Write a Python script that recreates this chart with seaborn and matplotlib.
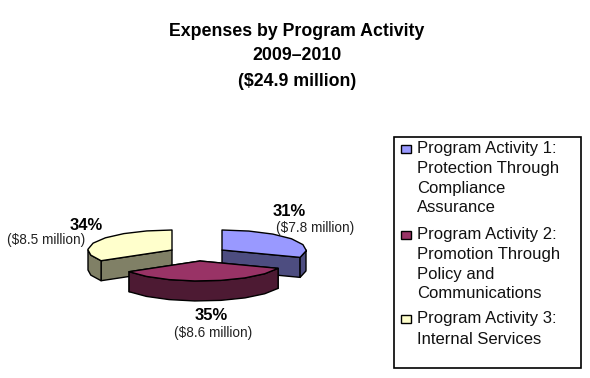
import numpy as np
import seaborn as sns
import matplotlib.pyplot as plt
from matplotlib.patches import Rectangle

# Values
activities = [
    ["Program Activity 1:", "Protection Through", "Compliance", "Assurance"],
    ["Program Activity 2:", "Promotion Through", "Policy and", "Communications"],
    ["Program Activity 3:", "Internal Services"],
]
shares = [31, 35, 34]
amounts = ["($7.8 million)", "($8.6 million)", "($8.5 million)"]
title_lines = ["Expenses by Program Activity", "2009–2010", "($24.9 million)"]

top_colors = ["#9999FF", "#993366", "#FFFFCC"]
side_colors = ["#4D4D80", "#4D1A33", "#808066"]

# Pie geometry, in picture pixels
apexes = [(222, 250), (200, 261), (172, 250)]
RX, RY, DEPTH = 84, 20, 20


def arc_points(start, end, apex, step=18):
    n = max(int(round((end - start) / step)), 1)
    deg = np.linspace(start, end, n + 1)
    # keep the widest points of the ellipse as corners
    deg = np.unique(np.r_[deg, [d for d in (90, 270) if start < d < end]])
    ang = np.radians(deg)
    return apex[0] + RX * np.sin(ang), apex[1] - RY * np.cos(ang), ang


def draw_slice(ax, start, end, apex, top, side):
    xs, ys, ang = arc_points(start, end, apex)
    edge = dict(edgecolor="black", linewidth=1.0, joinstyle="round")

    # cut faces first, only the ones turned towards the viewer
    for x, y in [(xs[0], ys[0]), (xs[-1], ys[-1])]:
        if y > apex[1]:
            ax.fill([apex[0], x, x, apex[0]],
                    [apex[1], y, y + DEPTH, apex[1] + DEPTH],
                    facecolor=side, **edge)

    # rim, only the part that faces front
    keep = np.cos(ang) <= 0.02
    if keep.any():
        fx, fy = xs[keep], ys[keep]
        ax.fill(np.r_[fx, fx[::-1]], np.r_[fy, fy[::-1] + DEPTH],
                facecolor=side, **edge)

    ax.fill(np.r_[apex[0], xs], np.r_[apex[1], ys], facecolor=top, **edge)


sns.set_theme(style="white")
plt.rcParams["font.family"] = ["Liberation Sans", "DejaVu Sans"]

fig = plt.figure(figsize=(5.9, 3.78), dpi=100)
ax = fig.add_axes([0, 0, 1, 1])
ax.set_xlim(0, 590)
ax.set_ylim(378, 0)
ax.axis("off")

# back slices first so the middle one overlaps them
angles = np.r_[0, np.cumsum(shares)] * 3.6
for i in [0, 2, 1]:
    draw_slice(ax, angles[i], angles[i + 1], apexes[i], top_colors[i], side_colors[i])

for line, y in zip(title_lines, [31, 56, 81]):
    ax.text(297, y, line, ha="center", va="center", fontsize=12.8,
            fontweight="bold", color="black")

pct_pos = [(289, 211), (211, 316), (86, 225)]
amt_pos = [(315, 228), (213, 333), (46, 240)]
for share, amount, p, a in zip(shares, amounts, pct_pos, amt_pos):
    ax.text(p[0], p[1], f"{share}%", ha="center", va="center", fontsize=12,
            fontweight="bold", color="black")
    ax.text(a[0], a[1], amount, ha="center", va="center", fontsize=9.8,
            color="#222222")

# legend box, drawn by hand so the swatch sits on the first line
ax.add_patch(Rectangle((394, 137), 187, 231, facecolor="white",
                       edgecolor="black", linewidth=1.2))
line_rows = [[149, 169, 189, 208], [235, 254, 274, 293], [319, 340]]
for lines, rows, color in zip(activities, line_rows, top_colors):
    ax.add_patch(Rectangle((401, rows[0] - 4), 10, 8, facecolor=color,
                           edgecolor="black", linewidth=1.0))
    for line, y in zip(lines, rows):
        ax.text(417, y, line, ha="left", va="center", fontsize=12, color="#111111")

fig.savefig("out.png", dpi=100)
